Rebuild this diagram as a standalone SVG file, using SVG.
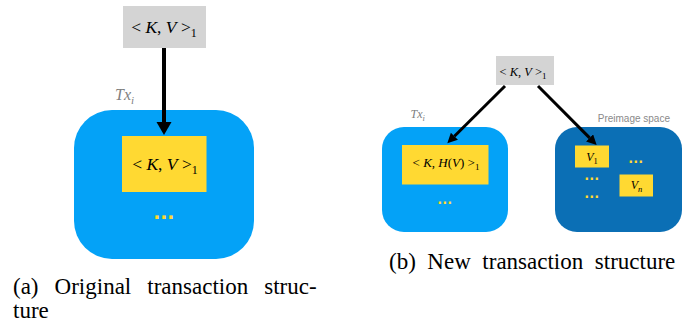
<svg xmlns="http://www.w3.org/2000/svg" width="689" height="327" viewBox="0 0 689 327">
<style>
.gray{fill:#d4d4d4}
.lblue{fill:#04a2f7}
.dblue{fill:#0b6fb5}
.yel{fill:#ffd932}
.math{font-family:'Liberation Serif','Times New Roman',serif;fill:#000}
.it{font-style:italic}
.tx{font-family:'Liberation Serif','Times New Roman',serif;font-style:italic;fill:#808080}
.dots{font-family:'Liberation Sans',Arial,sans-serif;font-weight:bold;fill:#ffd932}
.cap{font-family:'Liberation Serif','Times New Roman',serif;fill:#000;font-size:23px}
.conn{stroke:#000;fill:none}
</style>
<defs>
<marker id="headA" markerUnits="userSpaceOnUse" markerWidth="14" markerHeight="16" refX="0" refY="7.5" orient="auto">
<path d="M0,0 L13,7.5 L0,15 z" fill="#000"/>
</marker>
<marker id="headB" markerUnits="userSpaceOnUse" markerWidth="11" markerHeight="11" refX="0" refY="5" orient="auto">
<path d="M0,0 L10,5 L0,10 z" fill="#000"/>
</marker>
</defs>

<!-- (a) Original -->
<g id="a-source">
<rect class="gray" x="123" y="6" width="83" height="42"/>
<text class="math" x="164" y="33" font-size="17.5" text-anchor="middle">&lt; <tspan class="it">K</tspan>, <tspan class="it">V</tspan> &gt;<tspan font-size="12" dy="4">1</tspan></text>
</g>
<g id="a-tx">
<text class="tx" x="115" y="100" font-size="16">Tx<tspan font-size="11" dy="4">i</tspan></text>
<rect class="lblue" x="74" y="110" width="180" height="149" rx="38" ry="38"/>
<rect class="yel" x="122" y="136" width="84.5" height="56"/>
<text class="math" x="165" y="170" font-size="17.5" text-anchor="middle">&lt; <tspan class="it">K</tspan>, <tspan class="it">V</tspan> &gt;<tspan font-size="12" dy="4">1</tspan></text>
<text class="dots" x="164" y="218.5" font-size="24" letter-spacing="0.3" text-anchor="middle">...</text>
</g>

<!-- (b) New -->
<g id="b-source">
<rect class="gray" x="496" y="56" width="58" height="29"/>
<text class="math" x="523" y="76" font-size="12.5" text-anchor="middle">&lt; <tspan class="it">K</tspan>, <tspan class="it">V</tspan> &gt;<tspan font-size="9" dy="3">1</tspan></text>
</g>
<g id="b-tx">
<text class="tx" x="410.5" y="118" font-size="12">Tx<tspan font-size="8.5" dy="3">i</tspan></text>
<rect class="lblue" x="382" y="127" width="126" height="105" rx="22" ry="22"/>
<rect class="yel" x="402" y="145" width="86.5" height="39.5"/>
<text class="math" x="446" y="167" font-size="13" text-anchor="middle">&lt; <tspan class="it">K</tspan>, <tspan class="it">H</tspan>(<tspan class="it">V</tspan>) &gt;<tspan font-size="9" dy="3">1</tspan></text>
<text class="dots" x="445" y="204" font-size="16" letter-spacing="0.6" text-anchor="middle">...</text>
</g>
<g id="b-preimage">
<text x="670" y="121.5" font-family="'Liberation Sans',Arial,sans-serif" font-size="10" fill="#8a8a8a" text-anchor="end">Preimage space</text>
<rect class="dblue" x="555" y="127" width="127" height="105" rx="22" ry="22"/>
<rect class="yel" x="575" y="145.5" width="34" height="22"/>
<text class="math" x="592" y="160.5" font-size="12" text-anchor="middle"><tspan class="it">V</tspan><tspan font-size="8.5" dy="3">1</tspan></text>
<rect class="yel" x="619.5" y="174.5" width="33.5" height="22"/>
<text class="math" x="636.5" y="189" font-size="12" text-anchor="middle"><tspan class="it">V</tspan><tspan class="it" font-size="8.5" dy="3">n</tspan></text>
<text class="dots" x="636" y="162.5" font-size="16" letter-spacing="0.6" text-anchor="middle">...</text>
<text class="dots" x="592" y="180" font-size="16" letter-spacing="0.6" text-anchor="middle">...</text>
<text class="dots" x="592" y="197.5" font-size="16" letter-spacing="0.6" text-anchor="middle">...</text>
</g>

<g id="connectors">
<line class="conn" x1="164" y1="48" x2="164" y2="122" stroke-width="4" marker-end="url(#headA)"/>
<line class="conn" x1="505" y1="86" x2="454.4" y2="136.3" stroke-width="3" marker-end="url(#headB)"/>
<line class="conn" x1="538" y1="86" x2="589.6" y2="137.9" stroke-width="3" marker-end="url(#headB)"/>
</g>

<g id="captions">
<text class="cap" x="13" y="294" word-spacing="10.3">(a) Original transaction struc-</text>
<text class="cap" x="13" y="318">ture</text>
<text class="cap" x="389" y="269" word-spacing="5.8">(b) New transaction structure</text>
</g>
</svg>
